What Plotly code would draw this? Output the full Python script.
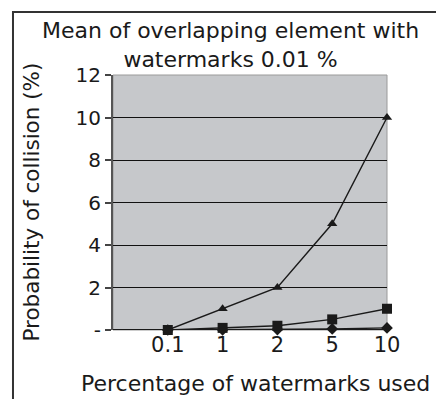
import plotly.graph_objects as go

# Data
watermarks_used = ["0.1", "1", "2", "5", "10"]
series_triangle = [0, 1, 2, 5, 10]
series_square = [0, 0.1, 0.2, 0.5, 1]
series_diamond = [0, 0.01, 0.02, 0.05, 0.1]
y_tick_vals = [0, 2, 4, 6, 8, 10, 12]
y_tick_text = ["-", "2", "4", "6", "8", "10", "12"]

FONT = "DejaVu Sans, Liberation Sans, sans-serif"
INK = "#1a1a1a"

fig = go.Figure()

def add_series(values, symbol, size):
    fig.add_trace(go.Scatter(
        x=watermarks_used, y=values, mode="lines+markers",
        line=dict(color=INK, width=1.4),
        marker=dict(symbol=symbol, size=size, color=INK),
        showlegend=False, cliponaxis=False,
    ))

add_series(series_diamond, "diamond", 9)
add_series(series_square, "square", 10)
add_series(series_triangle, "triangle-up", 9)

fig.update_layout(
    width=436, height=399,
    margin=dict(l=113, r=49, t=75, b=69),
    paper_bgcolor="white",
    plot_bgcolor="#c6c8cb",
    font=dict(family=FONT, size=20, color=INK),
    xaxis=dict(
        type="category", range=[-1, 4],
        showgrid=False, zeroline=False, showline=False,
        ticks="", tickfont=dict(size=21),
    ),
    yaxis=dict(
        range=[0, 12], tickvals=y_tick_vals, ticktext=y_tick_text,
        showgrid=True, gridcolor="#111111", gridwidth=1.2,
        zeroline=False, showline=True, linecolor="#555555", linewidth=2,
        ticks="outside", ticklen=6, tickcolor="#444444", tickwidth=1.5,
        tickfont=dict(size=20),
    ),
    annotations=[
        dict(text="Mean of overlapping element with<br>watermarks 0.01 %",
             xref="paper", yref="paper", x=(230 - 113) / 274, y=(330 - 45) / 255,
             xanchor="center", yanchor="middle", showarrow=False,
             font=dict(size=22)),
        dict(text="Percentage of watermarks used",
             xref="paper", yref="paper", x=(255 - 113) / 274, y=(330 - 383) / 255,
             xanchor="center", yanchor="middle", showarrow=False,
             font=dict(size=22)),
        dict(text="Probability of collision (%)", textangle=-90,
             xref="paper", yref="paper", x=(31 - 113) / 274, y=0.5,
             xanchor="center", yanchor="middle", showarrow=False,
             font=dict(size=21.5)),
    ],
    shapes=[
        # plot-area frame
        dict(type="rect", xref="paper", yref="paper", x0=0, x1=1, y0=0, y1=1,
             line=dict(color="#9a9a9a", width=1), layer="below"),
        # baseline along zero
        dict(type="line", xref="paper", yref="y", x0=0, x1=1, y0=0, y1=0,
             line=dict(color=INK, width=2)),
        # outer chart border
        dict(type="rect", xref="paper", yref="paper",
             x0=-0.365, x1=1.3, y0=-0.35, y1=1.247,
             line=dict(color="#333333", width=2)),
    ],
)

fig.write_html("out.html")
